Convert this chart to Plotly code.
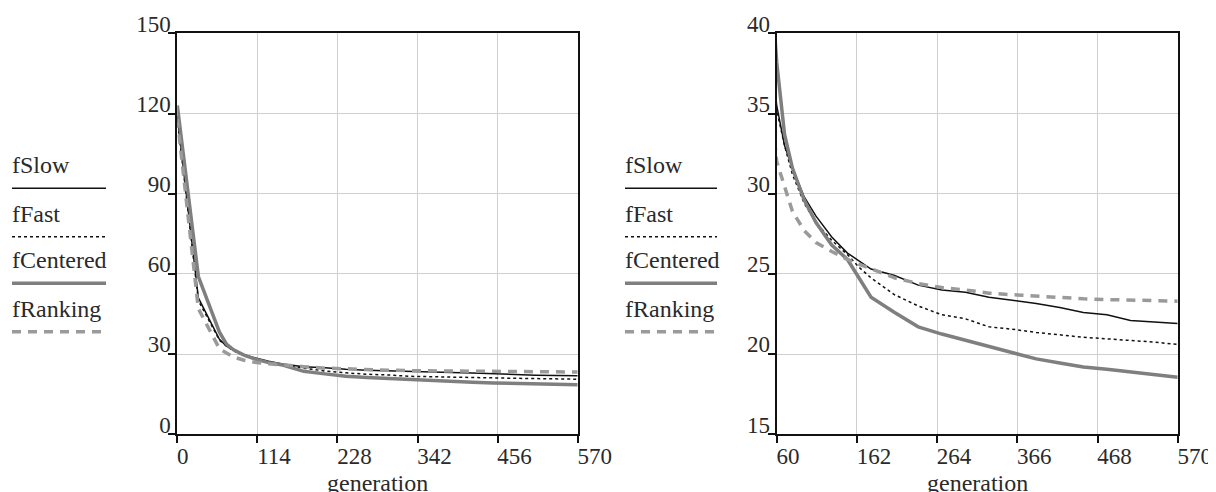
import plotly.graph_objects as go

# ---------------- data ----------------
generation = [0, 30, 60, 70, 80, 95, 110, 130, 150, 165, 180, 210, 240, 270,
              300, 330, 360, 390, 420, 450, 480, 510, 540, 570]

f_slow = [119, 51, 35.5, 33.0, 31.6, 29.8, 28.6, 27.3, 26.3, 25.8, 25.3, 24.9,
          24.3, 24.0, 23.85, 23.55, 23.35, 23.15, 22.9, 22.6, 22.45, 22.1, 22.0, 21.9]
f_fast = [118, 50, 35.2, 33.0, 31.2, 29.4, 28.2, 27.1, 26.2, 25.4, 24.75, 23.7,
          23.0, 22.45, 22.2, 21.7, 21.55, 21.35, 21.2, 21.05, 20.95, 20.85, 20.75, 20.6]
f_centered = [123, 59, 38.2, 33.7, 31.6, 29.6, 28.2, 26.8, 25.9, 24.7, 23.55, 22.6,
              21.7, 21.25, 20.85, 20.45, 20.1, 19.7, 19.45, 19.2, 19.05, 18.9, 18.75, 18.55]
f_ranking = [118, 47, 32.0, 30.4, 28.9, 27.7, 26.95, 26.4, 25.9, 25.6, 25.3, 24.75,
             24.4, 24.15, 24.0, 23.8, 23.7, 23.6, 23.5, 23.45, 23.4, 23.35, 23.3, 23.3]

series_names = ["fSlow", "fFast", "fCentered", "fRanking"]
series_values = [f_slow, f_fast, f_centered, f_ranking]

left_xticks = [0, 114, 228, 342, 456, 570]
left_yticks = [0, 30, 60, 90, 120, 150]
right_xticks = [60, 162, 264, 366, 468, 570]
right_yticks = [15, 20, 25, 30, 35, 40]
x_title = "generation"

# ---------------- styles ----------------
styles = [
    dict(color="#111111", width=1.5, dash="solid"),
    dict(color="#111111", width=1.5, dash="3px,3px"),
    dict(color="#7f7f7f", width=3.5, dash="solid"),
    dict(color="#9a9a9a", width=3.5, dash="9px,7px"),
]

OFF = 8  # page body margin
W, H = 1216 - OFF, 492 - OFF
FONT = "Liberation Serif, Times New Roman, serif"
TXT = "#2a2a2a"

fig = go.Figure()
for name, vals, st in zip(series_names, series_values, styles):
    for xa, ya in (("x", "y"), ("x2", "y2")):
        fig.add_trace(go.Scatter(x=generation, y=vals, mode="lines", name=name,
                                 line=st, xaxis=xa, yaxis=ya, showlegend=False,
                                 hoverinfo="skip"))

def px_x(p):
    return (p - OFF) / W

def px_y(p):
    return 1 - (p - OFF) / H

ydom = [px_y(434.3), px_y(33.3)]
xdom_left = [px_x(177.3), px_x(577.7)]
xdom_right = [px_x(776.7), px_x(1177.7)]

axis_common = dict(
    showline=True, mirror=True, linecolor="#111111", linewidth=2,
    showgrid=True, gridcolor="#cfcfcf", gridwidth=1,
    ticks="outside", ticklen=7, tickwidth=1.5, tickcolor="#111111",
    zeroline=False, automargin=False, ticklabeloverflow="allow",
    tickfont=dict(family=FONT, size=23, color=TXT),
)
x_common = dict(ticklabelposition="outside right", ticklabelshift=-2, **axis_common)
y_common = dict(ticklabelposition="outside top", ticklabelshift=7, **axis_common)

fig.update_layout(
    width=W, height=H,
    margin=dict(l=0, r=0, t=0, b=0),
    paper_bgcolor="white", plot_bgcolor="white",
    showlegend=False,
    xaxis=dict(domain=xdom_left, range=[0, 570],
               tickvals=left_xticks, anchor="y", **x_common),
    yaxis=dict(domain=ydom, range=[0, 150], tickvals=left_yticks,
               anchor="x", **y_common),
    xaxis2=dict(domain=xdom_right, range=[60, 570],
                tickvals=right_xticks, anchor="y2", **x_common),
    yaxis2=dict(domain=ydom, range=[15, 40], tickvals=right_yticks,
                anchor="x2", **y_common),
)

# x axis titles
for dom in (xdom_left, xdom_right):
    fig.add_annotation(text=x_title, xref="paper", yref="paper",
                       x=(dom[0] + dom[1]) / 2, y=px_y(483), xanchor="center",
                       yanchor="middle", showarrow=False,
                       font=dict(family=FONT, size=24, color=TXT))

# ---------------- legends (text above a line sample) ----------------
legend_lines_y = [188.3, 236.7, 283.3, 331.7]
for (x0, x1) in ((12, 106), (625, 717)):
    for name, st, ly in zip(series_names, styles, legend_lines_y):
        fig.add_shape(type="line", xref="paper", yref="paper",
                      x0=px_x(x0), x1=px_x(x1), y0=px_y(ly), y1=px_y(ly),
                      line=st)
        fig.add_annotation(text=name, xref="paper", yref="paper",
                           x=px_x(x0 - 2), y=px_y(ly - 8), xanchor="left",
                           yanchor="bottom", showarrow=False,
                           font=dict(family=FONT, size=24, color=TXT))

fig.write_html("out.html")
